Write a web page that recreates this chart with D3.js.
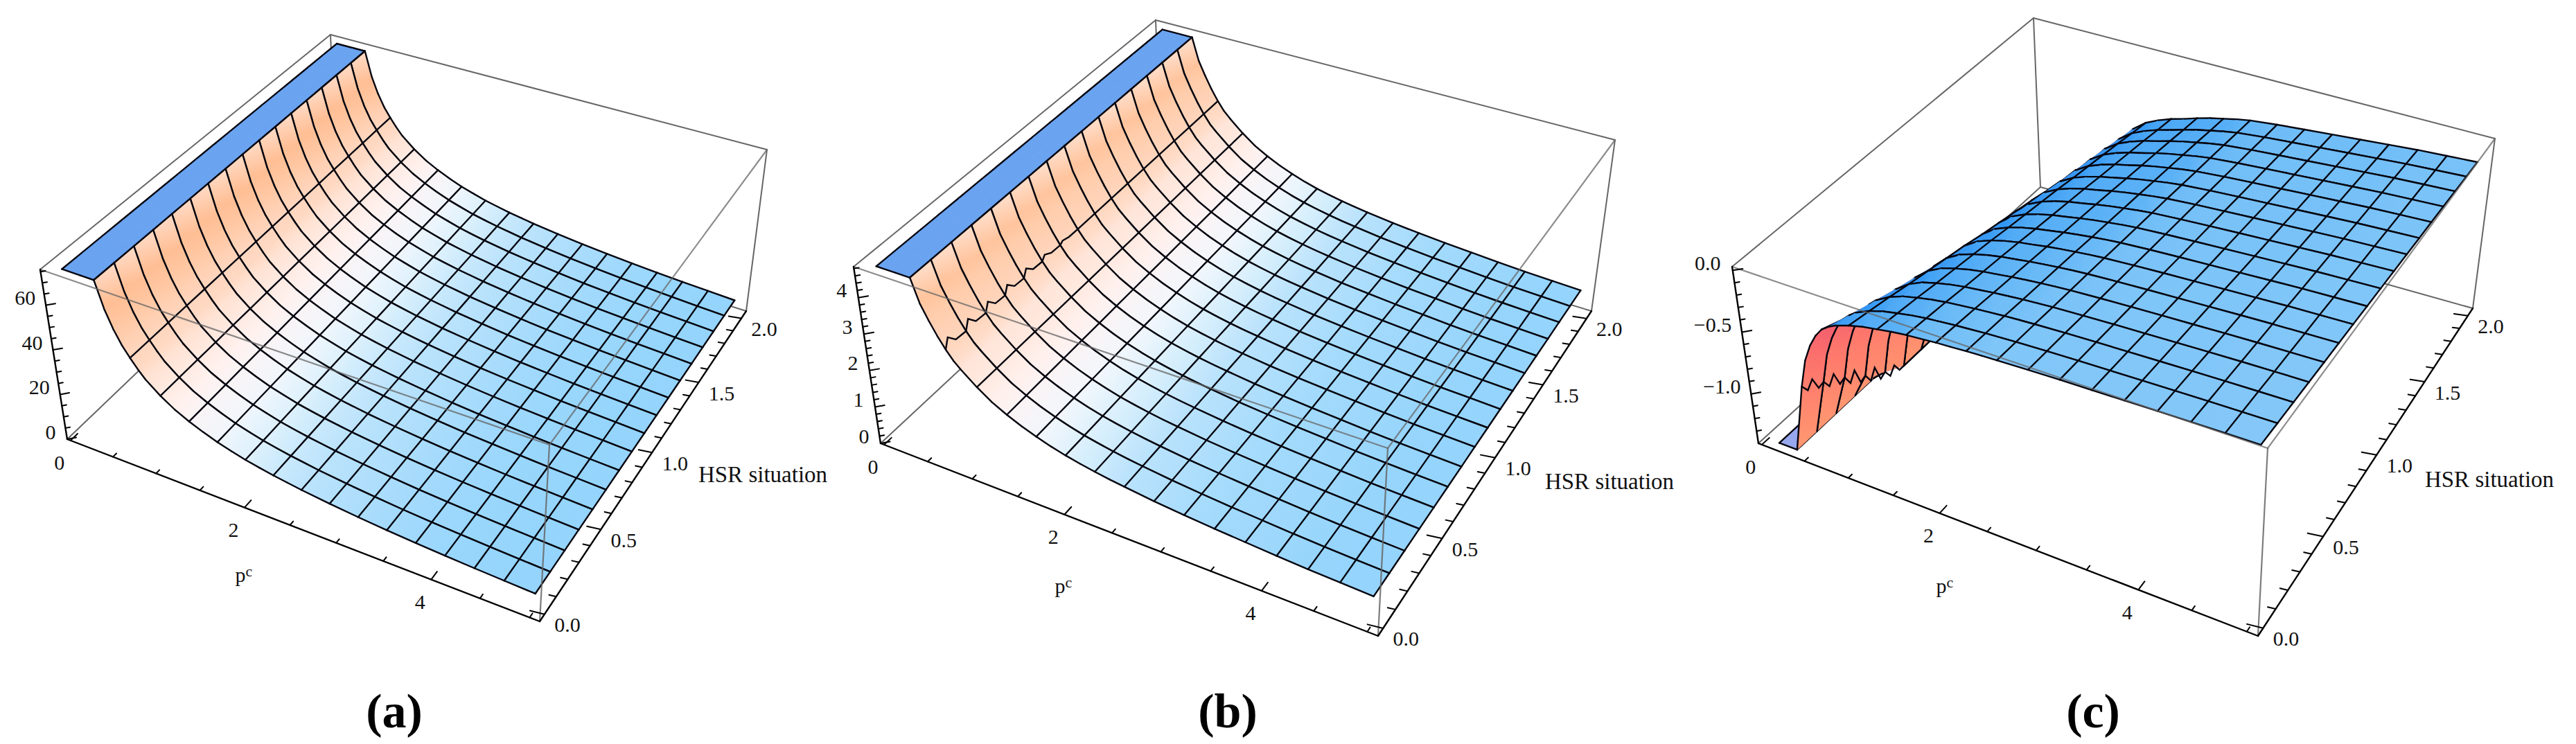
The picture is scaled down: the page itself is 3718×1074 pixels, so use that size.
<!DOCTYPE html>
<html>
<head>
<meta charset="utf-8">
<script src="https://cdn.jsdelivr.net/npm/d3@7"></script>
<style>
    html, body { margin: 0; background: #fff; }
    svg { display: block; }
    .tick-label { font-family: "Liberation Serif", serif; font-size: 30px; fill: #111; text-anchor: middle; dominant-baseline: central; }
    .axis-title { font-family: "Liberation Serif", serif; font-size: 33px; fill: #111; text-anchor: middle; dominant-baseline: central; }
    .caption { font-family: "Liberation Serif", serif; font-weight: 700; font-size: 70px; fill: #000; text-anchor: middle; }
</style>
</head>
<body>
<svg id="chart" width="3718" height="1074"></svg>
<script>
// values
const pcGrid = [0.13, 0.34, 0.49, 0.565, 0.64, 0.715, 0.79, 0.865, 0.94, 1.09, 1.24, 1.39, 1.54, 1.69, 1.84, 1.99, 2.14, 2.29, 2.44, 2.59, 2.89, 3.19, 3.49, 3.79, 4.09, 4.39, 4.69, 5.0]
const pcMesh = [0.49, 0.79, 1.09, 1.39, 1.69, 1.99, 2.29, 2.59, 2.89, 3.19, 3.49, 3.79, 4.09, 4.39, 4.69]
const hsrGrid = [0, 0.125, 0.25, 0.375, 0.5, 0.625, 0.75, 0.875, 1, 1.125, 1.25, 1.375, 1.5, 1.625, 1.75, 1.875, 2]

const zA = [76, 76, 76, 64, 56, 50, 45.5, 41.5, 38, 33, 29, 26, 23.5, 21.3, 19.6, 18, 16.8, 15.7, 14.8, 13.9, 12.5, 11.3, 10.3, 9.5, 8.8, 8.2, 7.7, 7.2]
const zB = [4.85, 4.85, 4.85, 4.2, 3.8, 3.45, 3.15, 2.9, 2.72, 2.4, 2.13, 1.93, 1.76, 1.62, 1.5, 1.4, 1.32, 1.25, 1.19, 1.14, 1.05, 0.98, 0.92, 0.87, 0.82, 0.78, 0.75, 0.72]
// panel (c) sinks towards high HSR: one profile at HSR 0, one at HSR 2, and the share of each per row
const zCFront = [-1.4, -1.4, -0.85, -0.62, -0.48, -0.38, -0.31, -0.27, -0.24, -0.2, -0.17, -0.15, -0.13, -0.115, -0.105, -0.095, -0.088, -0.08, -0.075, -0.07, -0.062, -0.055, -0.05, -0.045, -0.04, -0.036, -0.033, -0.03]
const zCBack = [-4, -3.4, -2.7, -2.3, -2, -1.7, -1.45, -1.2, -1, -0.76, -0.62, -0.54, -0.49, -0.45, -0.42, -0.385, -0.355, -0.33, -0.305, -0.285, -0.26, -0.24, -0.22, -0.2, -0.18, -0.16, -0.145, -0.13]
const hsrShareC = [0, 0.06, 0.12, 0.19, 0.25, 0.31, 0.37, 0.44, 0.5, 0.56, 0.62, 0.69, 0.75, 0.81, 0.87, 0.94, 1]

// ripple of the first mesh line after the steep edge, per HSR cell
const rippleB = [0.26, 0.26, 0.24, 0.22, 0.2, 0.12, 0.06, 0, 0, 0, 0, 0, 0, 0, 0, 0]
const rippleC = [0.04, 0.045, 0.05, 0.05, 0.04, 0, 0, 0, 0, 0, 0, 0, 0, 0, 0, 0]

const pcTicks = [0, 2, 4]
const pcMinor = [0.5, 1, 1.5, 2.5, 3, 3.5, 4.5, 5]
const hsrTicks = [0, 0.5, 1, 1.5, 2]
const hsrMinor = [0.1, 0.2, 0.3, 0.4, 0.6, 0.7, 0.8, 0.9, 1.1, 1.2, 1.3, 1.4, 1.6, 1.7, 1.8, 1.9]
const zTicksA = [0, 20, 40, 60]
const zMinorA = [5, 10, 15, 25, 30, 35, 45, 50, 55, 65, 70, 75]
const zTicksB = [0, 1, 2, 3, 4]
const zMinorB = [0.2, 0.4, 0.6, 0.8, 1.2, 1.4, 1.6, 1.8, 2.2, 2.4, 2.6, 2.8, 3.2, 3.4, 3.6, 3.8, 4.2, 4.4, 4.6, 4.8]
const zTicksC = [-1, -0.5, 0]
const zMinorC = [-1.3, -1.2, -1.1, -0.9, -0.8, -0.7, -0.6, -0.4, -0.3, -0.2, -0.1]

const BOX_COLOR = '#666'
const MESH_COLOR = '#05050f'
const MESH_WIDTH = 2.4

// box corners on the page: b = bottom face, t = top face, first digit pc end, second digit HSR end
const panels = [
    {
        name: '(a)', captionX: 569, zAt: i => zA[i], zDomain: [0, 76], zTicks: zTicksA, zMinor: zMinorA, zFormat: d3.format('d'),
        capColor: '#6aa3f0', ripple: [], rippleShape: [],
        b00: [97, 634], b10: [779, 897], b01: [486, 262], b11: [1077, 449],
        t00: [58, 389], t10: [793, 642], t01: [477, 50], t11: [1107, 216],
        pcLabel: [352, 829], hsrLabel: [1101, 685]
    },
    {
        name: '(b)', captionX: 1772, zAt: i => zB[i], zDomain: [0, 4.85], zTicks: zTicksB, zMinor: zMinorB, zFormat: d3.format('d'),
        capColor: '#6aa3f0', ripple: rippleB, ripplePc: 0.79, rippleShape: [[0.15, 1], [0.5, 0.1]],
        b00: [1271, 640], b10: [1989, 918], b01: [1677, 262], b11: [2297, 449],
        t00: [1232, 385], t10: [2003, 647], t01: [1668, 29], t11: [2331, 202],
        pcLabel: [1535, 845], hsrLabel: [2323, 695]
    },
    {
        name: '(c)', captionX: 3021, zAt: (i, j) => zCFront[i] + (zCBack[i] - zCFront[i]) * hsrShareC[j], zDomain: [-1.4, 0.03], zTicks: zTicksC, zMinor: zMinorC, zFormat: d3.format('.1f'),
        capColor: '#98a8ee', ripple: rippleC, ripplePc: 0.49, rippleShape: [[0.25, -1], [0.5, 1], [0.75, -1]],
        b00: [2538, 640], b10: [3259, 918], b01: [2945, 270], b11: [3569, 445],
        t00: [2500, 385], t10: [3273, 647], t01: [2935, 26], t11: [3601, 200],
        pcLabel: [2807, 845], hsrLabel: [3593, 692]
    }
]

const falling = d3.scaleLinear()
    .domain([0, 0.12, 0.3, 0.55, 0.9, 1.5, 3, 6, 12])
    .range(['#8ccffb', '#96d5fc', '#b4e0fc', '#d8effc', '#f2f6fc', '#fff2f0', '#ffdcc8', '#ffc8a4', '#ffb585'])
    .clamp(true)
const rising = d3.scaleLinear()
    .domain([0, 0.1, 0.4, 1.5, 5])
    .range(['#86c8f8', '#80c6f8', '#5cb2f6', '#2f95f5', '#6a8fe8'])
    .clamp(true)
const underside = d3.scaleLinear()
    .domain([0, 0.45, 1])
    .range(['#ff9670', '#ff7a6c', '#e8486e'])
    .clamp(true)

const svg = d3.select('#chart')
const defs = svg.append('defs')
let gradientId = 0

// maps the unit square on to a quad (Heckbert)
function squareToQuad(p00, p10, p11, p01) {
    const dx1 = p10[0] - p11[0], dx2 = p01[0] - p11[0], sx = p00[0] - p10[0] + p11[0] - p01[0]
    const dy1 = p10[1] - p11[1], dy2 = p01[1] - p11[1], sy = p00[1] - p10[1] + p11[1] - p01[1]
    const den = dx1 * dy2 - dx2 * dy1
    const g = (sx * dy2 - dx2 * sy) / den
    const h = (dx1 * sy - sx * dy1) / den
    const a = p10[0] - p00[0] + g * p10[0]
    const b = p01[0] - p00[0] + h * p01[0]
    const d = p10[1] - p00[1] + g * p10[1]
    const e = p01[1] - p00[1] + h * p01[1]
    return (u, v) => {
        const w = g * u + h * v + 1
        return [(a * u + b * v + p00[0]) / w, (d * u + e * v + p00[1]) / w]
    }
}

function drawPanel(panel) {
    const g = svg.append('g')
    const xScale = d3.scaleLinear().domain([-0.04, 5.1]).range([0, 1])
    const yScale = d3.scaleLinear().domain([-0.04, 2.06]).range([0, 1])
    const zScale = d3.scaleLinear().domain(panel.zDomain).range([0, 1]).clamp(true)
    const bottom = squareToQuad(panel.b00, panel.b10, panel.b11, panel.b01)
    const top = squareToQuad(panel.t00, panel.t10, panel.t11, panel.t01)

    const project = (u, v, w) => {
        const b = bottom(u, v)
        const t = top(u, v)
        return [b[0] + (t[0] - b[0]) * w, b[1] + (t[1] - b[1]) * w]
    }
    const node = (i, j) => project(xScale(pcGrid[i]), yScale(hsrGrid[j]), zScale(panel.zAt(i, j)))
    const line = (parent, a, b, color, width, opacity) => parent.append('line')
        .attr('x1', a[0]).attr('y1', a[1]).attr('x2', b[0]).attr('y2', b[1])
        .attr('stroke', color).attr('stroke-width', width).attr('stroke-opacity', opacity || 1)
        .attr('stroke-linecap', 'round')
    const polyline = d3.line()

    // back of the box, behind the surface
    line(g, project(0, 0, 1), project(0, 1, 1), BOX_COLOR, 2)
    line(g, project(0, 1, 1), project(1, 1, 1), BOX_COLOR, 2)
    line(g, project(1, 1, 1), project(1, 1, 0), BOX_COLOR, 2)
    line(g, project(0, 1, 1), project(0, 1, 0), BOX_COLOR, 2)
    line(g, project(0, 0, 0), project(0, 1, 0), BOX_COLOR, 2)
    line(g, project(0, 1, 0), project(1, 1, 0), BOX_COLOR, 2)

    // slope of the surface at each grid value, in box units
    const slope = (i, j) => {
        const i0 = Math.max(i - 1, 0)
        const i1 = Math.min(i + 1, pcGrid.length - 1)
        return (zScale(panel.zAt(i1, j)) - zScale(panel.zAt(i0, j))) / (xScale(pcGrid[i1]) - xScale(pcGrid[i0]))
    }
    const topColor = (i, j) => {
        const s = slope(i, j)
        return s < 0 ? falling(-s) : rising(s)
    }
    const upSign = Math.sign(d3.polygonArea([bottom(0, 0), bottom(1, 0), bottom(1, 1), bottom(0, 1)]))
    const clipped = w => w === 0 || w === 1
    const isCap = (i, j) => {
        const w = zScale(panel.zAt(i, j))
        return clipped(w) && w === zScale(panel.zAt(i + 1, j)) && w === zScale(panel.zAt(i, j + 1)) && w === zScale(panel.zAt(i + 1, j + 1))
    }
    const lastRow = hsrGrid.length - 2
    const lastBand = pcGrid.length - 2

    // painter's order: far HSR rows first, low pc first
    d3.range(lastRow, -1, -1).forEach(j => {
        d3.range(lastBand + 1).forEach(i => {
            const quad = [node(i, j), node(i + 1, j), node(i + 1, j + 1), node(i, j + 1)]
            const cap = isCap(i, j)
            const facingUp = Math.sign(d3.polygonArea(quad)) === upSign
            let fill
            if (cap) {
                fill = panel.capColor
            } else {
                const id = 'g' + (gradientId++)
                const from = [(quad[0][0] + quad[3][0]) / 2, (quad[0][1] + quad[3][1]) / 2]
                const to = [(quad[1][0] + quad[2][0]) / 2, (quad[1][1] + quad[2][1]) / 2]
                const w0 = zScale(panel.zAt(i, j))
                const w1 = zScale(panel.zAt(i + 1, j))
                const grad = defs.append('linearGradient').attr('id', id)
                    .attr('gradientUnits', 'userSpaceOnUse')
                    .attr('x1', from[0]).attr('y1', from[1]).attr('x2', to[0]).attr('y2', to[1])
                grad.append('stop').attr('offset', 0).attr('stop-color', facingUp ? topColor(i, j) : underside(w0))
                grad.append('stop').attr('offset', 1).attr('stop-color', facingUp ? topColor(i + 1, j) : underside(w1))
                fill = `url(#${id})`
            }
            g.append('polygon')
                .attr('points', quad.map(p => p.join(',')).join(' '))
                .attr('fill', fill)
                .attr('stroke', fill)
                .attr('stroke-width', 0.8)

            // mesh: pc lines stop at the flat cap, only its outer edges are drawn
            if (!cap || j === 0) line(g, quad[0], quad[1], MESH_COLOR, MESH_WIDTH)
            if (!cap || j === lastRow) line(g, quad[3], quad[2], MESH_COLOR, MESH_WIDTH)
            const onMesh = pcMesh.includes(pcGrid[i])
            if (onMesh && pcGrid[i] === panel.ripplePc && panel.ripple[j] > 0) {
                const points = [quad[0]]
                panel.rippleShape.forEach(([t, sign]) => {
                    const hsr = hsrGrid[j] + (hsrGrid[j + 1] - hsrGrid[j]) * t
                    const zMid = panel.zAt(i, j) + (panel.zAt(i, j + 1) - panel.zAt(i, j)) * t
                    points.push(project(xScale(pcGrid[i]), yScale(hsr), zScale(zMid + panel.ripple[j] * sign)))
                })
                points.push(quad[3])
                g.append('path').attr('d', polyline(points))
                    .attr('fill', 'none').attr('stroke', MESH_COLOR).attr('stroke-width', MESH_WIDTH)
            } else if (i === 0 || onMesh) {
                line(g, quad[0], quad[3], MESH_COLOR, MESH_WIDTH)
            }
            if (i === lastBand || (cap && !isCap(i + 1, j))) {
                line(g, quad[1], quad[2], MESH_COLOR, MESH_WIDTH)
            }
        })
    })

    // front of the box shows through the surface
    line(g, project(0, 0, 1), project(1, 0, 1), BOX_COLOR, 2.2, 0.75)
    line(g, project(1, 0, 1), project(1, 1, 1), BOX_COLOR, 2.2, 0.75)
    line(g, project(1, 0, 1), project(1, 0, 0), BOX_COLOR, 2.2, 0.85)

    // axes
    line(g, project(0, 0, 0), project(1, 0, 0), '#000', 2.4)
    line(g, project(1, 0, 0), project(1, 1, 0), '#000', 2.4)
    line(g, project(0, 0, 0), project(0, 0, 1), '#000', 2.4)

    const pcTick = (v, len) => {
        const u = xScale(v)
        line(g, project(u, 0, 0), project(u, len, 0), '#000', 2)
        return project(u, 0, 0)
    }
    const hsrTick = (v, len) => {
        const u = yScale(v)
        line(g, project(1, u, 0), project(1 - len, u, -len * 0.4), '#000', 2)
        return project(1, u, 0)
    }
    const zTick = (v, len) => {
        const w = zScale(v)
        line(g, project(0, 0, w), project(len, len, w), '#000', 2)
        return project(0, 0, w)
    }

    const label = (text, p, dx, dy) => g.append('text')
        .attr('class', 'tick-label')
        .attr('x', p[0] + dx).attr('y', p[1] + dy)
        .text(text)

    pcMinor.forEach(v => pcTick(v, 0.011))
    hsrMinor.forEach(v => hsrTick(v, 0.014))
    panel.zMinor.forEach(v => zTick(v, 0.006))
    pcTicks.forEach(v => label(d3.format('d')(v), pcTick(v, 0.022), -16, 32))
    hsrTicks.forEach(v => label(d3.format('.1f')(v), hsrTick(v, 0.028), 33, 15))
    panel.zTicks.forEach(v => {
        const text = panel.zFormat(v).replace('-', '\u2212')
        label(text, zTick(v, 0.012), -18 - text.length * 6, -11)
    })

    const pcText = g.append('text').attr('class', 'tick-label')
        .attr('x', panel.pcLabel[0]).attr('y', panel.pcLabel[1])
    pcText.append('tspan').text('p')
    pcText.append('tspan').attr('font-size', 22).attr('dy', -5).text('c')
    g.append('text').attr('class', 'axis-title')
        .attr('x', panel.hsrLabel[0]).attr('y', panel.hsrLabel[1])
        .text('HSR situation')

    g.append('text').attr('class', 'caption')
        .attr('x', panel.captionX).attr('y', 1050)
        .text(panel.name)
}

panels.forEach(drawPanel)
</script>
</body>
</html>
